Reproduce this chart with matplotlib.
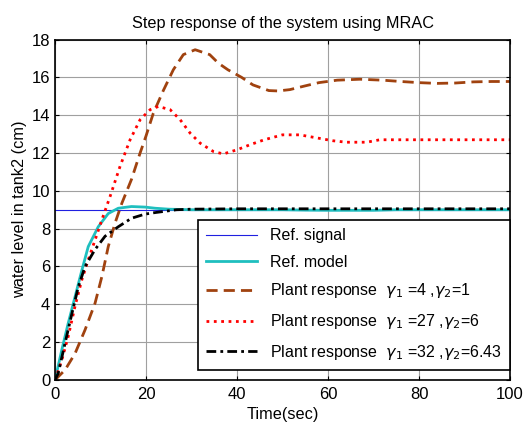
import numpy as np
import matplotlib.pyplot as plt

plt.rcParams['font.family'] = ['Liberation Sans', 'DejaVu Sans']
plt.rcParams['mathtext.fontset'] = 'dejavusans'

# reference signal
t_ref = [0, 100]
y_ref = [9, 9]

# reference model
t_model = [0, 1.5, 2.9, 4.4, 5.9, 7.3, 9.5, 11.7, 13.9, 16.8, 19.8, 22, 25, 30, 40, 50, 55, 60, 70, 75, 80, 90, 100]
y_model = [0, 1.6, 3.0, 4.4, 5.8, 7.05, 8.1, 8.8, 9.08, 9.17, 9.14, 9.08, 9.03, 9.0, 9.0, 9.0, 8.98, 8.97, 8.97, 9.0, 9.0, 9.0, 9.0]

# plant, gamma1=4, gamma2=1
t_p1 = [0, 0.7, 2.2, 4.4, 6.6, 8.8, 10.3, 11.7, 13.2, 14.7, 16.8, 18.7, 20, 21.6, 23.8, 26, 28.2, 30.8, 34, 35.9,
        38, 41, 43.5, 47, 49, 51.6, 55, 58, 62, 67, 72, 76, 80, 84, 88, 92, 96, 100]
y_p1 = [0, 0.17, 0.53, 1.4, 2.65, 4.06, 5.47, 7.05, 8.3, 9.35, 10.6, 12.0, 12.9, 14.1, 15.3, 16.4, 17.2, 17.46, 17.2, 16.75,
        16.4, 16.0, 15.6, 15.3, 15.28, 15.35, 15.55, 15.72, 15.85, 15.9, 15.85, 15.78, 15.72, 15.68, 15.7, 15.76, 15.78, 15.78]

# plant, gamma1=27, gamma2=6
t_p2 = [0, 1.5, 2.9, 4.4, 5.9, 7.3, 8.8, 10.3, 12.1, 14.3, 16.5, 18.7, 20.9, 22.7, 25.3, 27.5, 29.7, 31.9, 34.8, 37,
        40, 43, 46, 50, 53.8, 57.5, 61, 64, 68.5, 71.4, 75, 80, 90, 100]
y_p2 = [0, 1.06, 2.3, 3.9, 5.3, 6.35, 7.4, 8.47, 9.7, 11.3, 12.7, 13.76, 14.29, 14.46, 14.29, 13.76, 13.05, 12.52, 12.08, 11.95,
        12.17, 12.45, 12.7, 12.96, 12.96, 12.8, 12.65, 12.57, 12.57, 12.7, 12.7, 12.7, 12.7, 12.7]

# plant, gamma1=32, gamma2=6.43
t_p3 = [0, 0.7, 2.2, 3.7, 5.1, 6.6, 8.8, 11, 13.9, 16.8, 19.8, 22, 26.7, 30, 40, 50, 60, 70, 80, 90, 100]
y_p3 = [0, 0.35, 1.94, 3.5, 4.9, 6.0, 6.9, 7.6, 8.1, 8.55, 8.77, 8.85, 9.0, 9.03, 9.05, 9.05, 9.05, 9.05, 9.05, 9.05, 9.05]

fig = plt.figure(figsize=(5.26, 4.23), dpi=100)
ax = fig.add_axes([0.1046, 0.1017, 0.8650, 0.8049])

ax.plot(t_ref, y_ref, color='#2020e0', lw=0.8, label='Ref. signal')
ax.plot(t_model, y_model, color='#1fbfbf', lw=2, label='Ref. model')
ax.plot(t_p1, y_p1, '--', color='#a0420f', lw=2, dashes=(4, 2.2), label=r'Plant response  $\gamma_1$ =4 ,$\gamma_2$=1')
ax.plot(t_p2, y_p2, ':', color='red', lw=2, label=r'Plant response  $\gamma_1$ =27 ,$\gamma_2$=6')
ax.plot(t_p3, y_p3, '-.', color='black', lw=2, dashes=(3.5, 1.5, 1, 1.5), label=r'Plant response  $\gamma_1$ =32 ,$\gamma_2$=6.43')

ax.set_xlim(0, 100)
ax.set_ylim(0, 18)
ax.set_xticks(np.arange(0, 101, 20))
ax.set_yticks(np.arange(0, 19, 2))
ax.grid(True, color='#a0a0a0', lw=0.8)
ax.tick_params(direction='in', length=3, top=True, right=True, labelsize=12)
ax.tick_params(axis='x', pad=5)
for s in ax.spines.values():
    s.set_linewidth(1.2)

ax.set_title('Step response of the system using MRAC', fontsize=11.7, pad=8.5)
ax.set_xlabel('Time(sec)', fontsize=11.7, labelpad=4)
ax.set_ylabel('water level in tank2 (cm)', fontsize=11.7, labelpad=3)

leg = ax.legend(loc='lower right', bbox_to_anchor=(1.0, 0.03), borderaxespad=0, fontsize=11.5,
                fancybox=False, framealpha=1, edgecolor='black', handlelength=3.2, labelspacing=0.73,
                borderpad=0.5)
leg.get_frame().set_linewidth(1.2)

fig.savefig('out.png', dpi=100)
